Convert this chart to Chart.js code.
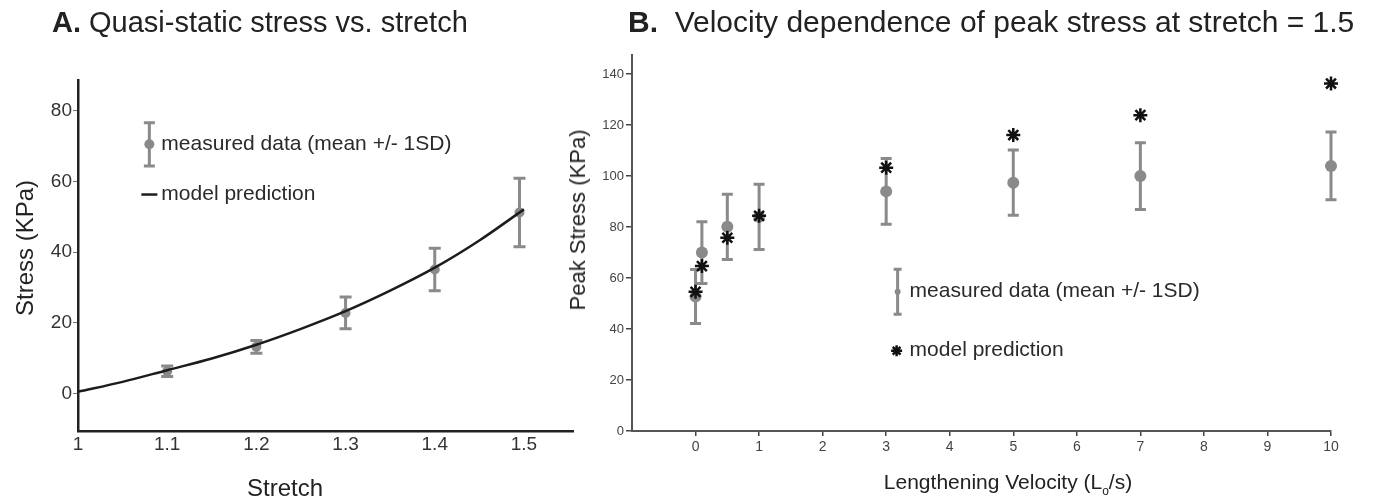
<!DOCTYPE html>
<html>
<head>
<meta charset="utf-8">
<script src="https://cdn.jsdelivr.net/npm/chart.js@4.4.0/dist/chart.umd.min.js"></script>
<style>
  body { margin:0; background:#fff; width:1373px; height:502px; position:relative; overflow:hidden;
         font-family:'Liberation Sans', Arial, sans-serif; color:#222; }
  canvas { position:absolute; top:0; }
  .txt { position:absolute; white-space:nowrap; line-height:1; }
  .rot { transform: translate(-50%,-50%) rotate(-90deg); }
  .ctr { transform: translate(-50%,-50%); }
</style>
</head>
<body>
<canvas id="chartA" width="590" height="502" style="left:0"></canvas>
<canvas id="chartB" width="783" height="502" style="left:590px"></canvas>

<div class="txt" style="left:52px;top:8px;font-size:29px"><b>A.</b> Quasi-static stress vs. stretch</div>
<div class="txt" style="left:628px;top:7px;font-size:30px"><b>B.</b>&nbsp; Velocity dependence of peak stress at stretch = 1.5</div>
<div class="txt rot" style="left:25px;top:248px;font-size:24px">Stress (KPa)</div>
<div class="txt ctr" style="left:285px;top:488px;font-size:24px">Stretch</div>
<div class="txt rot" style="left:578px;top:220px;font-size:22px">Peak Stress (KPa)</div>
<div class="txt ctr" style="left:1008px;top:484px;font-size:21px">Lengthening Velocity (L<sub style="font-size:12px">o</sub>/s)</div>

<script>
// ---------------- A. quasi-static data ----------------
const stretchA = [1.1, 1.2, 1.3, 1.4, 1.495];
const stressMean = [6.3, 13.2, 22.8, 35.1, 51.2];
const stressSD = [1.5, 1.8, 4.5, 6.0, 9.7];
const curveStretch = [1.0, 1.05, 1.1, 1.15, 1.2, 1.25, 1.3, 1.35, 1.4, 1.45, 1.5];
const curveStress = [0.5, 3.3, 6.6, 9.9, 13.8, 18.3, 23.3, 29.1, 35.6, 43.3, 52.1];
const xTicksA = [1, 1.1, 1.2, 1.3, 1.4, 1.5];
const xLabelsA = ['1', '1.1', '1.2', '1.3', '1.4', '1.5'];
const yTicksA = [0, 20, 40, 60, 80];

// ---------------- B. velocity data ----------------
const velocity = [0, 0.1, 0.5, 1, 3, 5, 7, 10];
const peakMean = [52.8, 70, 80.1, 84, 94, 97.4, 100, 104];
const peakSD = [10.6, 12.1, 12.8, 12.8, 12.9, 12.8, 13.1, 13.3];
const modelPeak = [54.6, 64.7, 75.8, 84.4, 103.3, 116.1, 123.9, 136.3];
const xTicksB = [0, 1, 2, 3, 4, 5, 6, 7, 8, 9, 10];
const yTicksB = [0, 20, 40, 60, 80, 100, 120, 140];

const FONT = "'Liberation Sans', Arial, sans-serif";
const GREY = '#8a8a8a';

function pts(xs, ys) {
    return xs.map((x, i) => ({ x: x, y: ys[i] }));
}

// error bars drawn under the points, from the dataset's sd array
const errorBars = {
    id: 'errorBars',
    beforeDatasetsDraw(chart) {
        const ctx = chart.ctx;
        chart.data.datasets.forEach((ds, di) => {
            if (!ds.sd) return;
            const meta = chart.getDatasetMeta(di);
            const ys = chart.scales[meta.yAxisID];
            ctx.save();
            ctx.strokeStyle = ds.barColor;
            ctx.lineWidth = ds.barWidth;
            ds.data.forEach((p, i) => {
                const x = meta.data[i].x;
                const top = ys.getPixelForValue(p.y + ds.sd[i]);
                const bot = ys.getPixelForValue(p.y - ds.sd[i]);
                const c = ds.capWidth / 2;
                ctx.beginPath();
                ctx.moveTo(x, top); ctx.lineTo(x, bot);
                ctx.moveTo(x - c, top); ctx.lineTo(x + c, top);
                ctx.moveTo(x - c, bot); ctx.lineTo(x + c, bot);
                ctx.stroke();
            });
            ctx.restore();
        });
    }
};

function drawBarMarker(ctx, x, yTop, yBot, cap, w, r) {
    ctx.save();
    ctx.strokeStyle = GREY;
    ctx.lineWidth = w;
    ctx.beginPath();
    ctx.moveTo(x, yTop); ctx.lineTo(x, yBot);
    ctx.moveTo(x - cap / 2, yTop); ctx.lineTo(x + cap / 2, yTop);
    ctx.moveTo(x - cap / 2, yBot); ctx.lineTo(x + cap / 2, yBot);
    ctx.stroke();
    ctx.fillStyle = GREY;
    ctx.beginPath();
    ctx.arc(x, (yTop + yBot) / 2, r, 0, Math.PI * 2);
    ctx.fill();
    ctx.restore();
}

// legend A, anchored in data units
const legendA = {
    id: 'legendA',
    afterDraw(chart) {
        const ctx = chart.ctx, xs = chart.scales.x, ys = chart.scales.y;
        const bx = xs.getPixelForValue(1.08);
        drawBarMarker(ctx, bx, ys.getPixelForValue(76.6), ys.getPixelForValue(64.4), 11, 3, 5);
        ctx.save();
        ctx.font = '21px ' + FONT;
        ctx.fillStyle = '#2a2a2a';
        ctx.textBaseline = 'middle';
        ctx.fillText('measured data (mean +/- 1SD)', bx + 12, ys.getPixelForValue(70.5));
        const ly = ys.getPixelForValue(56.3);
        ctx.strokeStyle = '#1c1c1c';
        ctx.lineWidth = 2.5;
        ctx.beginPath();
        ctx.moveTo(bx - 8, ly); ctx.lineTo(bx + 8, ly);
        ctx.stroke();
        ctx.fillText('model prediction', bx + 12, ly);
        ctx.restore();
    }
};

// legend B
const legendB = {
    id: 'legendB',
    afterDraw(chart) {
        const ctx = chart.ctx, xs = chart.scales.x, ys = chart.scales.y;
        const bx = xs.getPixelForValue(3.18);
        drawBarMarker(ctx, bx, ys.getPixelForValue(63.5), ys.getPixelForValue(45.8), 8, 3, 3);
        ctx.save();
        ctx.font = '21px ' + FONT;
        ctx.fillStyle = '#2a2a2a';
        ctx.textBaseline = 'middle';
        ctx.fillText('measured data (mean +/- 1SD)', bx + 12, ys.getPixelForValue(54.7));
        const sy = ys.getPixelForValue(31.5);
        ctx.strokeStyle = '#111';
        ctx.lineWidth = 2.5;
        Chart.helpers.drawPoint(ctx, { pointStyle: 'star', radius: 5.5, borderWidth: 2.5, rotation: 0 }, bx - 1, sy);
        ctx.fillText('model prediction', bx + 12, sy);
        ctx.restore();
    }
};

// ---------------------------------------------- A ----------------------------------------------
new Chart(document.getElementById('chartA'), {
    type: 'scatter',
    data: {
        datasets: [{
            label: 'model prediction',
            type: 'line',
            data: pts(curveStretch, curveStress),
            borderColor: '#1c1c1c',
            borderWidth: 2.5,
            pointRadius: 0,
            cubicInterpolationMode: 'monotone',
            fill: false,
            clip: false,
            order: 0
        }, {
            label: 'measured data (mean +/- 1SD)',
            data: pts(stretchA, stressMean),
            backgroundColor: GREY,
            borderWidth: 0,
            pointRadius: 5,
            sd: stressSD,
            barColor: GREY,
            barWidth: 3,
            capWidth: 12,
            clip: false,
            order: 1
        }]
    },
    options: {
        responsive: false,
        animation: false,
        layout: { padding: { left: 0, right: 17, top: 80, bottom: 31 } },
        plugins: { legend: { display: false }, tooltip: { enabled: false } },
        scales: {
            x: {
                type: 'linear', min: 1, max: 1.555,
                afterBuildTicks: s => { s.ticks = xTicksA.map(v => ({ value: v })); },
                afterFit: s => { s.height = 40; },
                grid: { display: false, drawTicks: false },
                border: { display: true, color: '#222', width: 2.5 },
                ticks: {
                    padding: 2, color: '#333', font: { family: FONT, size: 19 },
                    maxRotation: 0, autoSkip: false,
                    callback: (v, i) => xLabelsA[i]
                }
            },
            y: {
                min: -10.6, max: 88.7,
                afterBuildTicks: s => { s.ticks = yTicksA.map(v => ({ value: v })); },
                afterFit: s => { s.width = 78; },
                grid: { display: true, drawOnChartArea: false, drawTicks: true, tickLength: 5, color: '#777', lineWidth: 1 },
                border: { display: true, color: '#222', width: 2.5 },
                ticks: { padding: 1, color: '#333', font: { family: FONT, size: 19 } }
            }
        }
    },
    plugins: [errorBars, legendA]
});

// ---------------------------------------------- B ----------------------------------------------
new Chart(document.getElementById('chartB'), {
    type: 'scatter',
    data: {
        datasets: [{
            label: 'model prediction',
            data: pts(velocity, modelPeak),
            pointStyle: 'star',
            pointRadius: 7,
            borderColor: '#111',
            borderWidth: 2.5,
            clip: false,
            order: 0
        }, {
            label: 'measured data (mean +/- 1SD)',
            data: pts(velocity, peakMean),
            backgroundColor: GREY,
            borderWidth: 0,
            pointRadius: 6,
            sd: peakSD,
            barColor: GREY,
            barWidth: 3,
            capWidth: 11,
            clip: false,
            order: 1
        }]
    },
    options: {
        responsive: false,
        animation: false,
        layout: { padding: { left: 0, right: 42, top: 55, bottom: 31 } },
        plugins: { legend: { display: false }, tooltip: { enabled: false } },
        scales: {
            x: {
                type: 'linear', min: -1, max: 10,
                afterBuildTicks: s => { s.ticks = xTicksB.map(v => ({ value: v })); },
                afterFit: s => { s.height = 40; },
                grid: { display: true, drawOnChartArea: false, drawTicks: true, tickLength: 5, color: '#444', lineWidth: 1.5 },
                border: { display: true, color: '#555', width: 2 },
                ticks: { padding: 3, color: '#444', font: { family: FONT, size: 14 }, maxRotation: 0, autoSkip: false }
            },
            y: {
                min: 0, max: 147.5,
                afterBuildTicks: s => { s.ticks = yTicksB.map(v => ({ value: v })); },
                afterFit: s => { s.width = 42; },
                grid: { display: true, drawOnChartArea: false, drawTicks: true, tickLength: 6, color: '#444', lineWidth: 1.5 },
                border: { display: true, color: '#555', width: 2 },
                ticks: { padding: 2, color: '#444', font: { family: FONT, size: 13 } }
            }
        }
    },
    plugins: [errorBars, legendB]
});
</script>
</body>
</html>
